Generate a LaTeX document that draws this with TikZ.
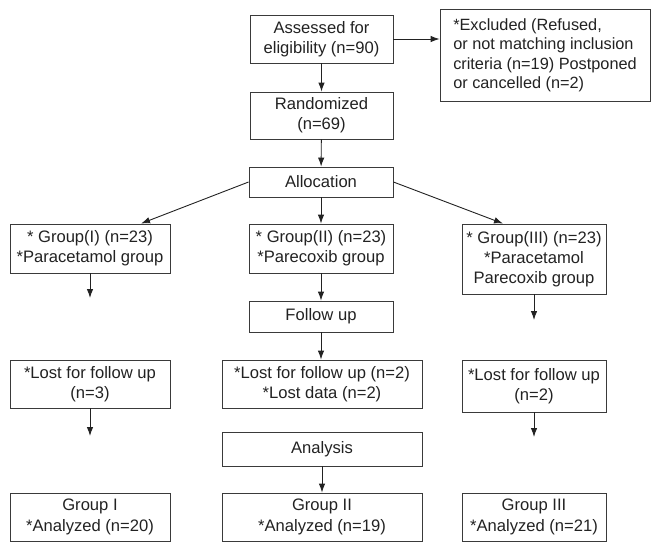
\documentclass[tikz,border=0pt]{standalone}
\usepackage{fontspec}
\setmainfont{Liberation Sans}
\usetikzlibrary{arrows.meta}
\definecolor{ink}{HTML}{222222}
\definecolor{edge}{HTML}{3A3A3A}
\tikzset{
  bx/.style={draw=edge, line width=0.9pt, rectangle, inner sep=0pt, align=center,
    text=ink, font=\fontsize{16.6}{20.3}\selectfont},
  arr/.style={draw=ink, line width=0.9pt, -{Latex[length=9pt,width=6.5pt]}}
}
\begin{document}
\begin{tikzpicture}[x=1pt,y=-1pt]
\useasboundingbox (0,0) rectangle (652,542);
\node[bx, minimum width=143pt, minimum height=48pt] (assess) at (321.5,39) {Assessed for\\eligibility (n=90)};
\node[bx, minimum width=210pt, minimum height=92pt, align=left, font=\fontsize{16.3}{19.5}\selectfont] (excl) at (545,55.5) {*Excluded (Refused,\\or not matching inclusion\\criteria (n=19) Postponed\\or cancelled (n=2)};
\node[bx, minimum width=143pt, minimum height=47pt] (rand) at (321.5,115.5) {Randomized\\(n=69)};
\node[bx, minimum width=144pt, minimum height=30pt] (alloc) at (321,182) {Allocation};
\node[bx, minimum width=160pt, minimum height=49pt] (g1) at (90,248.5) {* Group(I) (n=23)\\*Paracetamol group};
\node[bx, minimum width=144pt, minimum height=49pt] (g2) at (321,248.5) {* Group(II) (n=23)\\*Parecoxib group};
\node[bx, minimum width=144pt, minimum height=70pt] (g3) at (534,259) {* Group(III) (n=23)\\*Paracetamol\\Parecoxib group};
\node[bx, minimum width=144pt, minimum height=31pt] (fu) at (321,316.5) {Follow up};
\node[bx, minimum width=160pt, minimum height=48pt] (l1) at (90,384) {*Lost for follow up\\(n=3)};
\node[bx, minimum width=200pt, minimum height=48pt] (l2) at (322,384) {*Lost for follow up (n=2)\\*Lost data (n=2)};
\node[bx, minimum width=144pt, minimum height=52pt] (l3) at (534,386) {*Lost for follow up\\(n=2)};
\node[bx, minimum width=200pt, minimum height=34pt] (an) at (322,449) {Analysis};
\node[bx, minimum width=160pt, minimum height=48pt] (f1) at (90,517) {Group I\\*Analyzed (n=20)};
\node[bx, minimum width=200pt, minimum height=48pt] (f2) at (322,517) {Group II\\*Analyzed (n=19)};
\node[bx, minimum width=144pt, minimum height=48pt] (f3) at (534,517) {Group III\\*Analyzed (n=21)};
\coordinate (g1e) at (90,298);
\coordinate (g3e) at (534,320);
\coordinate (l1e) at (90,436);
\coordinate (l3e) at (534,437);
\draw[arr] (assess) -- (excl.west |- assess.east);
\draw[arr] (assess) -- (rand);
\draw[arr] (rand) -- (alloc);
\draw[arr] (alloc.west) -- ([xshift=51pt]g1.north);
\draw[arr] (alloc) -- (g2);
\draw[arr] (alloc.east) -- ([xshift=-31pt]g3.north);
\draw[arr] (g1.south) -- (g1e);
\draw[arr] (g2) -- (fu);
\draw[arr] (fu.south) -- (fu.south |- l2.north);
\draw[arr] (g3.south) -- (g3e);
\draw[arr] (l1.south) -- (l1e);
\draw[arr] (l3.south) -- (l3e);
\draw[arr] (an) -- (f2);
\end{tikzpicture}
\end{document}
